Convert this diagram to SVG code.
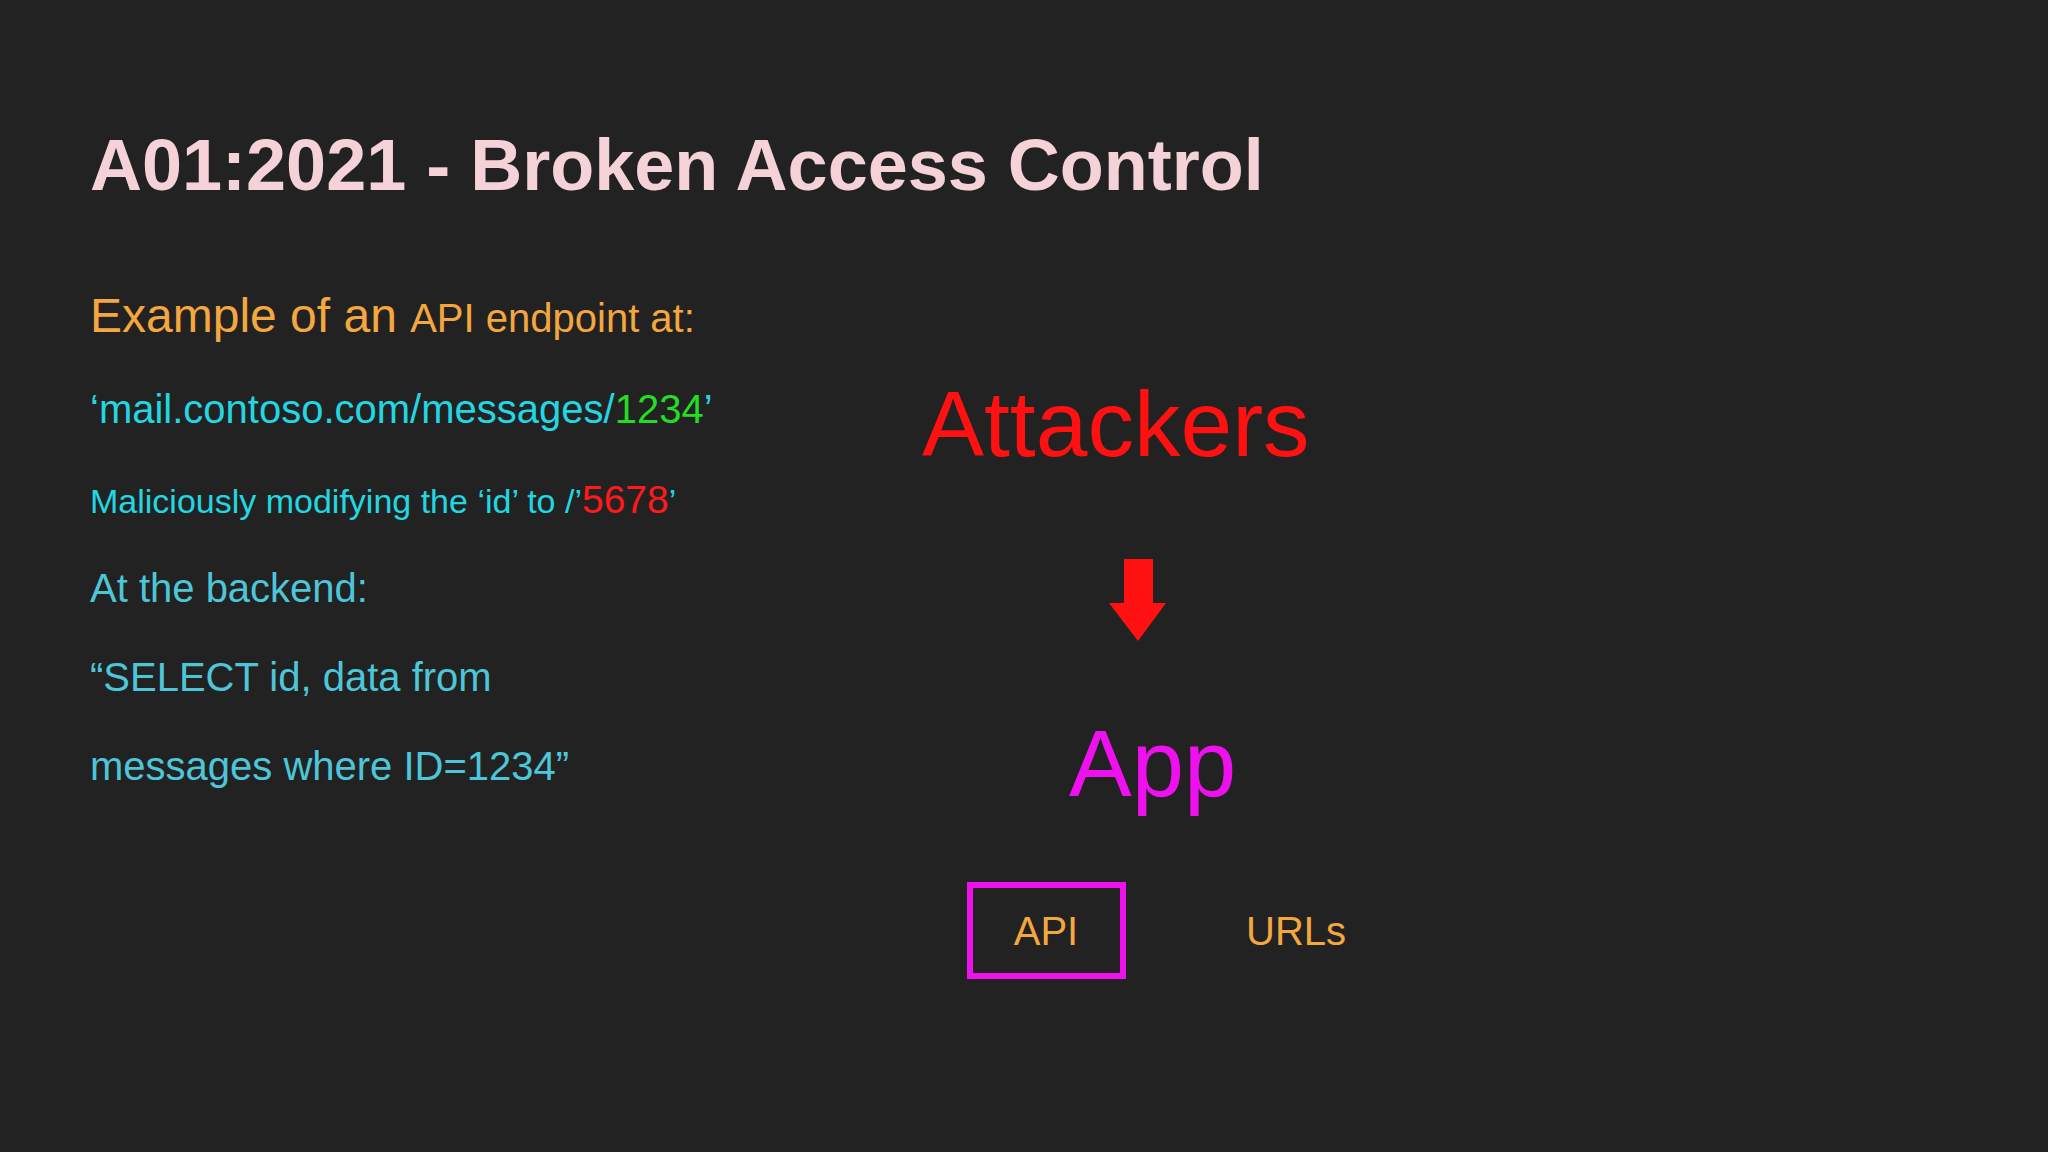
<svg xmlns="http://www.w3.org/2000/svg" width="2048" height="1152" viewBox="0 0 2048 1152">
<style>
text{font-family:"Liberation Sans",Arial,sans-serif}
.cy{fill:#22d6e2}
.bk{fill:#4cc6d8;font-size:40px}
.or{fill:#f3a73e}
</style>
<rect width="2048" height="1152" fill="#222222"/>
<g id="title"><text x="90" y="190" font-size="72" font-weight="bold" fill="#f5d2d8">A01:2021 - Broken Access Control</text></g>
<g id="left">
<text x="90" y="332" class="or" font-size="48">Example of an <tspan font-size="40">API endpoint at:</tspan></text>
<text x="90" y="423" class="cy" font-size="40">‘mail.contoso.com/messages/<tspan fill="#22dd22">1234</tspan>’</text>
<text x="90" y="513" class="cy" font-size="34">Maliciously modifying the ‘id’ to /’<tspan fill="#ff1a1a" font-size="39">5678</tspan>’</text>
<text x="90" y="602" class="bk">At the backend:</text>
<text x="90" y="691" class="bk">“SELECT id, data from</text>
<text x="90" y="780" class="bk">messages where ID=1234”</text>
</g>
<g id="attackers"><text x="922" y="456" font-size="93" fill="#ff1111">Attackers</text></g>
<g id="connectors"><polygon points="1124,559 1153,559 1153,603 1166,603 1138,641 1109,603 1124,603" fill="#ff1111"/></g>
<g id="app"><text x="1069" y="796" font-size="94" fill="#ee11ee">App</text></g>
<g id="api"><rect x="970" y="885" width="153" height="91" fill="none" stroke="#ee11ee" stroke-width="6"/><text x="1046" y="945" text-anchor="middle" font-size="40" class="or">API</text></g>
<g id="urls"><text x="1246" y="945" font-size="40" class="or">URLs</text></g>
</svg>
